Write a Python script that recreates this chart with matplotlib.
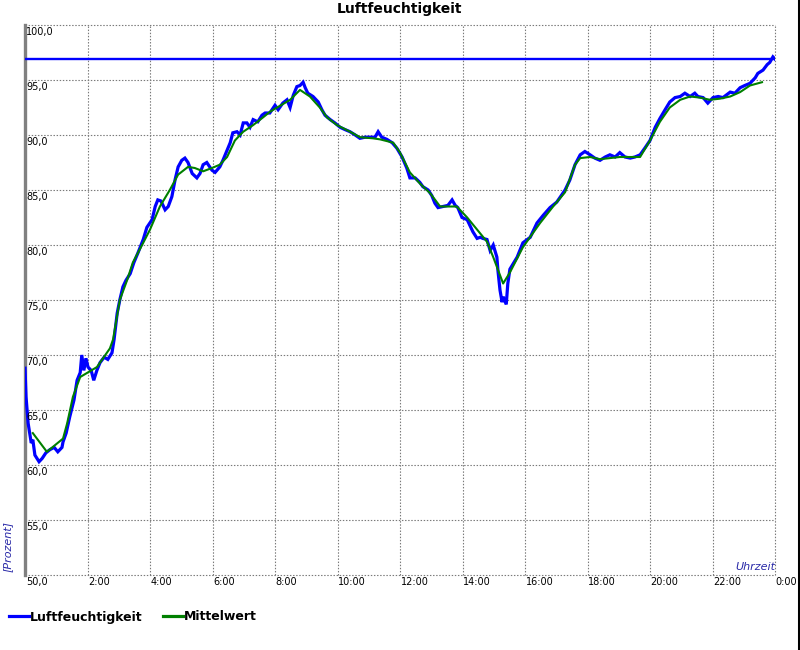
import matplotlib
matplotlib.use("Agg")
import matplotlib.pyplot as plt
from matplotlib.lines import Line2D
import matplotlib.transforms as mtransforms

# ---------------- data ----------------
# time in minutes after midnight
humidity_minutes = [0, 2, 6, 12, 15, 19, 27, 33, 40, 48, 56, 63, 71, 73, 79, 86, 94, 100, 106, 109,
                    113, 117, 121, 127, 132, 138, 144, 152, 159, 167, 171, 177, 182, 188, 194, 202,
                    209, 217, 227, 234, 244, 250, 255, 261, 269, 275, 282, 288, 294, 301, 307, 313,
                    321, 330, 336, 342, 349, 359, 365, 374, 380, 388, 394, 399, 407, 413, 419, 426,
                    432, 438, 447, 455, 461, 470, 480, 486, 495, 503, 509, 515, 522, 528, 534, 538,
                    543, 553, 563, 570, 576, 586, 595, 605, 614, 624, 634, 643, 653, 662, 672, 678,
                    685, 695, 705, 714, 724, 733, 739, 749, 758, 764, 774, 781, 787, 793, 803, 812,
                    820, 826, 831, 839, 849, 854, 860, 868, 874, 879, 887, 893, 899, 906, 908, 912,
                    916, 918, 924, 927, 931, 945, 956, 970, 983, 995, 1008, 1021, 1037, 1046, 1056,
                    1066, 1075, 1085, 1094, 1104, 1114, 1123, 1133, 1142, 1152, 1162, 1171, 1181,
                    1190, 1200, 1210, 1219, 1229, 1238, 1248, 1258, 1267, 1277, 1286, 1292, 1302,
                    1311, 1321, 1331, 1340, 1354, 1363, 1373, 1382, 1392, 1402, 1407, 1417, 1425,
                    1430, 1436, 1440]
humidity_values = [68.8, 66.2, 63.8, 62.0, 62.3, 60.9, 60.3, 60.6, 61.1, 61.4, 61.6, 61.2, 61.6, 62.1,
                   62.9, 64.4, 65.9, 67.7, 68.4, 70.0, 68.6, 69.7, 68.9, 68.6, 67.7, 68.6, 69.3, 69.8,
                   69.6, 70.2, 71.4, 73.8, 75.0, 76.2, 76.8, 77.4, 78.4, 79.3, 80.5, 81.6, 82.3, 83.5,
                   84.1, 84.0, 83.2, 83.5, 84.4, 85.9, 87.1, 87.7, 87.9, 87.5, 86.5, 86.1, 86.5, 87.3,
                   87.5, 86.8, 86.6, 87.1, 87.7, 88.6, 89.3, 90.2, 90.3, 90.0, 91.1, 91.1, 90.7, 91.4,
                   91.2, 91.8, 92.0, 92.0, 92.7, 92.3, 92.9, 93.2, 92.5, 93.6, 94.4, 94.5, 94.8, 94.3,
                   93.8, 93.5, 93.0, 92.3, 91.8, 91.4, 91.1, 90.7, 90.5, 90.3, 90.0, 89.7, 89.8, 89.8,
                   89.8, 90.3, 89.8, 89.6, 89.3, 88.8, 88.0, 87.0, 86.1, 86.1, 85.7, 85.3, 85.0, 84.5,
                   83.8, 83.4, 83.5, 83.6, 84.1, 83.6, 83.4, 82.5, 82.3, 81.8, 81.2, 80.6, 80.7, 80.6,
                   80.5, 79.5, 80.0, 78.9, 77.7, 75.9, 74.8, 75.3, 74.6, 76.5, 77.8, 78.9, 80.2, 80.7,
                   82.0, 82.7, 83.4, 83.9, 85.0, 85.9, 87.3, 88.2, 88.5, 88.2, 87.9, 87.7, 88.0, 88.2,
                   88.0, 88.4, 88.0, 87.9, 88.0, 88.2, 88.8, 89.5, 90.7, 91.5, 92.3, 93.0, 93.4, 93.5,
                   93.8, 93.5, 93.8, 93.5, 93.4, 92.9, 93.4, 93.5, 93.4, 93.9, 93.8, 94.3, 94.5, 94.7,
                   95.2, 95.6, 95.9, 96.4, 96.6, 97.1, 96.9]

mean_minutes = [15, 42, 73, 81, 92, 106, 138, 163, 169, 182, 196, 207, 227, 240, 259, 278, 294, 313,
                326, 342, 359, 374, 388, 403, 419, 438, 457, 470, 484, 509, 528, 547, 566, 580, 599,
                624, 643, 668, 682, 707, 720, 739, 758, 778, 797, 829, 849, 868, 887, 899, 918, 931,
                956, 989, 1014, 1037, 1056, 1066, 1085, 1104, 1142, 1181, 1200, 1219, 1238, 1258,
                1277, 1296, 1315, 1334, 1354, 1373, 1392, 1415]
mean_values = [62.9, 61.2, 62.4, 63.8, 66.2, 68.0, 68.9, 70.6, 71.4, 75.0, 76.8, 78.4, 80.2, 81.4,
               83.5, 85.0, 86.4, 87.1, 87.0, 86.7, 87.0, 87.3, 88.0, 89.5, 90.3, 90.9, 91.6, 92.1,
               92.5, 93.2, 94.1, 93.5, 92.5, 91.6, 90.9, 90.3, 89.8, 89.7, 89.6, 89.3, 88.4, 86.6,
               85.6, 84.7, 83.5, 83.5, 82.5, 81.4, 80.3, 78.9, 76.5, 77.5, 79.8, 82.0, 83.5, 84.8,
               87.3, 87.9, 88.0, 87.8, 88.0, 88.0, 89.5, 91.2, 92.5, 93.2, 93.5, 93.4, 93.2, 93.3,
               93.5, 93.9, 94.5, 94.8]

limit_value = 96.9

y_ticks = [50, 55, 60, 65, 70, 75, 80, 85, 90, 95, 100]
y_tick_labels = ["50,0", "55,0", "60,0", "65,0", "70,0", "75,0", "80,0", "85,0", "90,0", "95,0", "100,0"]
x_ticks = [120, 240, 360, 480, 600, 720, 840, 960, 1080, 1200, 1320, 1440]
x_tick_labels = ["2:00", "4:00", "6:00", "8:00", "10:00", "12:00", "14:00", "16:00", "18:00",
                 "20:00", "22:00", "0:00"]

title_text = "Luftfeuchtigkeit"
series_names = ["Luftfeuchtigkeit", "Mittelwert"]
y_axis_label = "[Prozent]"
x_axis_label = "Uhrzeit"

# ---------------- styling ----------------
plt.rcParams['font.family'] = ['DejaVu Sans']
BLUE = "#0000ff"
GREEN = "#008000"
AXIS_TXT = "#2a2aa8"

fig = plt.figure(figsize=(8, 6.5), dpi=100)
ax = fig.add_axes([25 / 800, 1 - 575 / 650, 750 / 800, 550 / 650])
ax.set_xlim(0, 1440)
ax.set_ylim(50, 100)

for s in ["top", "right", "bottom"]:
    ax.spines[s].set_visible(False)
ax.spines["left"].set_color("#808080")
ax.spines["left"].set_linewidth(2.4)

ax.set_xticks([0] + x_ticks)
ax.set_yticks(y_ticks)
ax.tick_params(length=0, labelbottom=False, labelleft=False)
ax.grid(True, color="#7a7a7a", linestyle=(0, (1.3, 1.5)), linewidth=0.8)
for gl in ax.get_xgridlines() + ax.get_ygridlines():
    gl.set_clip_on(False)

ax.plot(humidity_minutes, humidity_values, color=BLUE, linewidth=2.3, solid_joinstyle="miter",
        zorder=3)
ax.plot(mean_minutes, mean_values, color=GREEN, linewidth=1.5, zorder=4)
ax.axhline(limit_value, color=BLUE, linewidth=1.7, zorder=3)

# y tick labels inside the plot, just under the grid line
ytrans = mtransforms.offset_copy(ax.transData, fig=fig, x=1.0, y=-1.5, units="points")
for v, lab in zip(y_ticks, y_tick_labels):
    ax.text(0, v, lab, transform=ytrans, ha="left", va="top", fontsize=7, color="black",
            clip_on=False)

# x tick labels below the axis
xtrans = mtransforms.offset_copy(ax.transData, fig=fig, x=0.5, y=-1.5, units="points")
for m, lab in zip(x_ticks, x_tick_labels):
    ax.text(m, 50, lab, transform=xtrans, ha="left", va="top", fontsize=7, color="black",
            clip_on=False)

fig.text(400 / 800, 1 - 9 / 650, title_text, ha="center", va="center", fontsize=10,
         fontweight="bold")

fig.text(8 / 800, 1 - 546 / 650, y_axis_label, rotation=90, ha="center", va="center",
         fontsize=8, style="italic", color=AXIS_TXT)
ax.text(1.0, 0.0, x_axis_label, transform=mtransforms.offset_copy(ax.transAxes, fig=fig, x=0, y=2,
        units="points"), ha="right", va="bottom", fontsize=8, style="italic", color=AXIS_TXT)

# right border line of the image
fig.add_artist(Line2D([798.5 / 800, 798.5 / 800], [0, 1], transform=fig.transFigure,
                      color="black", linewidth=2.2))

handles = [Line2D([], [], color=BLUE, linewidth=2.3),
           Line2D([], [], color=GREEN, linewidth=2.3)]
leg = fig.legend(handles, series_names, loc="center left", bbox_to_anchor=(9 / 800, 1 - 617 / 650),
                 ncol=2, frameon=False, handlelength=1.6, handletextpad=0.1, columnspacing=1.6,
                 borderpad=0, borderaxespad=0, prop={"weight": "bold", "size": 9})

fig.savefig("out.png", dpi=100)
